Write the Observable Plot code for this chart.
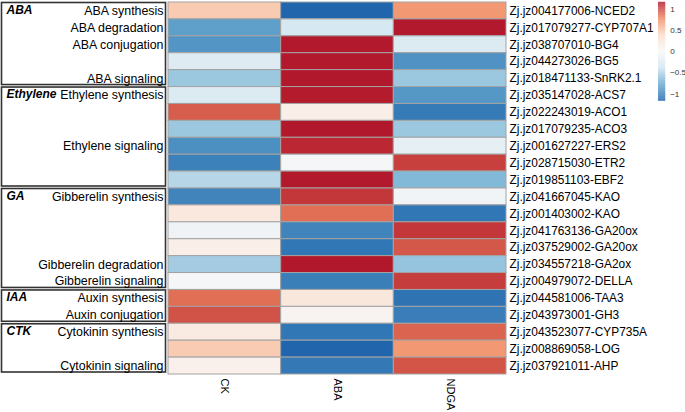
<!DOCTYPE html>
<html>
<head>
<meta charset="utf-8">
<script src="https://cdn.jsdelivr.net/npm/d3@7"></script>
<script src="https://cdn.jsdelivr.net/npm/@observablehq/plot@0.6"></script>
<style>
  html, body { margin: 0; padding: 0; background: #fff; }
  #wrap { position: relative; width: 685px; height: 412px; font-family: "Liberation Sans", Arial, sans-serif; }
  #legend { position: absolute; left: 658px; top: 0px; }
  #main { position: absolute; left: 0; top: 0; }
</style>
</head>
<body>
<div id="wrap"><div id="main"></div><div id="legend"></div></div>
<script>
const columns = ["CK", "ABA", "NDGA"];
const genes = [
  "Zj.jz004177006-NCED2", "Zj.jz017079277-CYP707A1", "Zj.jz038707010-BG4", "Zj.jz044273026-BG5",
  "Zj.jz018471133-SnRK2.1", "Zj.jz035147028-ACS7", "Zj.jz022243019-ACO1", "Zj.jz017079235-ACO3",
  "Zj.jz001627227-ERS2", "Zj.jz028715030-ETR2", "Zj.jz019851103-EBF2", "Zj.jz041667045-KAO",
  "Zj.jz001403002-KAO", "Zj.jz041763136-GA20ox", "Zj.jz037529002-GA20ox", "Zj.jz034557218-GA2ox",
  "Zj.jz004979072-DELLA", "Zj.jz044581006-TAA3", "Zj.jz043973001-GH3", "Zj.jz043523077-CYP735A",
  "Zj.jz008869058-LOG", "Zj.jz037921011-AHP"
];
const ck   = [0.46, -0.82, -0.88, -0.25, -0.58, -0.27, 0.92, -0.58, -0.92, -1.00, -0.48, -0.98, 0.20, -0.08, 0.12, -0.55, -0.02, 0.86, 0.96, 0.17, 0.46, 0.10];
const aba  = [-1.155, -0.33, 1.15, 1.15, 1.155, 1.14, 0.12, 1.155, 1.10, -0.02, 1.15, 1.05, 0.86, -0.98, -1.06, 1.155, -1.01, 0.22, 0.06, -1.06, -1.155, -1.05];
const ndga = [0.70, 1.15, -0.27, -0.90, -0.58, -0.87, -1.04, -0.58, -0.18, 1.02, -0.67, -0.07, -1.06, 1.05, 0.94, -0.60, 1.03, -1.08, -1.02, 0.90, 0.70, 0.95];

const groupNames = ["ABA", "Ethylene", "GA", "IAA", "CTK"];
const groupStart = [0, 5, 11, 17, 19];
const groupEnd   = [5, 11, 17, 19, 22];

const processLabels = ["ABA synthesis", "ABA degradation", "ABA conjugation", "ABA signaling",
  "Ethylene synthesis", "Ethylene signaling", "Gibberelin synthesis", "Gibberelin degradation",
  "Gibberelin signaling", "Auxin synthesis", "Auxin conjugation", "Cytokinin synthesis", "Cytokinin signaling"];
const processRow = [0, 1, 2, 4, 5, 8, 11, 15, 16, 17, 18, 19, 21];

const legendTicks = [-1, -0.5, 0, 0.5, 1];
const legendTickLabels = ["−1", "−0.5", "0", "0.5", "1"];

// ---- derived tables ----
const seriesVals = [ck, aba, ndga];
const cells = genes.flatMap((g, i) => columns.map((c, j) => ({row: i, col: j, value: seriesVals[j][i]})));
const groups = groupNames.map((n, k) => ({name: n, start: groupStart[k], end: groupEnd[k]}));
const processes = processLabels.map((l, k) => ({label: l, row: processRow[k]}));
const geneRows = genes.map((g, i) => ({gene: g, row: i}));
const colRows = columns.map((c, j) => ({name: c, col: j}));

const zmax = 1.155;
const colorRange = ["#2166ac", "#67a9cf", "#d1e5f0", "#f7f7f7", "#fddbc7", "#ef8a62", "#b2182b"];
const colorDomain = colorRange.map((_, k) => -zmax + (2 * zmax) * k / (colorRange.length - 1));
const colorOpts = {type: "linear", domain: colorDomain, range: colorRange, clamp: true};

const W = 685, H = 412;
const mL = 0, mR = 179, mT = 2, mB = 38;
const heatLeftPx = 168;
const unit = (W - mL - mR - heatLeftPx) / 3;
const xMin = -heatLeftPx / unit;
const font = "Liberation Sans, Arial, sans-serif";

const main = Plot.plot({
  width: W, height: H,
  marginLeft: mL, marginRight: mR, marginTop: mT, marginBottom: mB,
  style: {fontFamily: font, background: "#fff", overflow: "visible"},
  x: {domain: [xMin, 3], axis: null},
  y: {domain: [0, 22], reverse: true, axis: null},
  color: colorOpts,
  marks: [
    Plot.rect(cells, {x1: "col", x2: d => d.col + 1, y1: "row", y2: d => d.row + 1, fill: "value", stroke: "#a3a3a3", strokeWidth: 1}),
    Plot.rect(groups, {x1: xMin, x2: 0, y1: "start", y2: "end", insetLeft: 1.5, insetRight: 2.5, insetTop: 0.5, insetBottom: 2, fill: "none", stroke: "#333", strokeWidth: 1.6}),
    Plot.text(groups, {x: xMin, y: d => d.start + 0.5, text: "name", dx: 6, dy: -1, textAnchor: "start", fontWeight: "bold", fontStyle: "italic", fontSize: 12, fill: "#000"}),
    Plot.text(processes, {x: 0, y: d => d.row + 0.5, text: "label", dx: -5, textAnchor: "end", fontSize: 12.4, fill: "#000"}),
    Plot.text(geneRows, {x: 3, y: d => d.row + 0.5, text: "gene", dx: 3, textAnchor: "start", fontSize: 11.9, fill: "#000"}),
    Plot.text(colRows, {x: d => d.col + 0.5, y: 22, text: "name", dy: 4, rotate: 90, textAnchor: "start", fontSize: 11, fill: "#000"})
  ]
});
document.getElementById("main").appendChild(main);

const lo = -1.17, hi = 1.17, step = 0.01;
const steps = d3.range(lo, hi, step);
const legend = Plot.plot({
  width: 30, height: 115,
  marginLeft: 0, marginRight: 22, marginTop: 2, marginBottom: 3,
  style: {fontFamily: font, background: "transparent", overflow: "visible"},
  x: {domain: [0, 1], axis: null},
  y: {domain: [lo, hi], axis: null},
  color: colorOpts,
  marks: [
    Plot.rect(steps, {x1: 0, x2: 1, y1: d => d, y2: d => Math.min(hi, d + step * 1.2), fill: d => d}),
    Plot.axisY({anchor: "right", ticks: legendTicks, tickSize: 0, tickPadding: 5, fontSize: 9, fill: "#333",
      tickFormat: d => legendTickLabels[legendTicks.indexOf(d)]})
  ]
});
document.getElementById("legend").appendChild(legend);
</script>
</body>
</html>
